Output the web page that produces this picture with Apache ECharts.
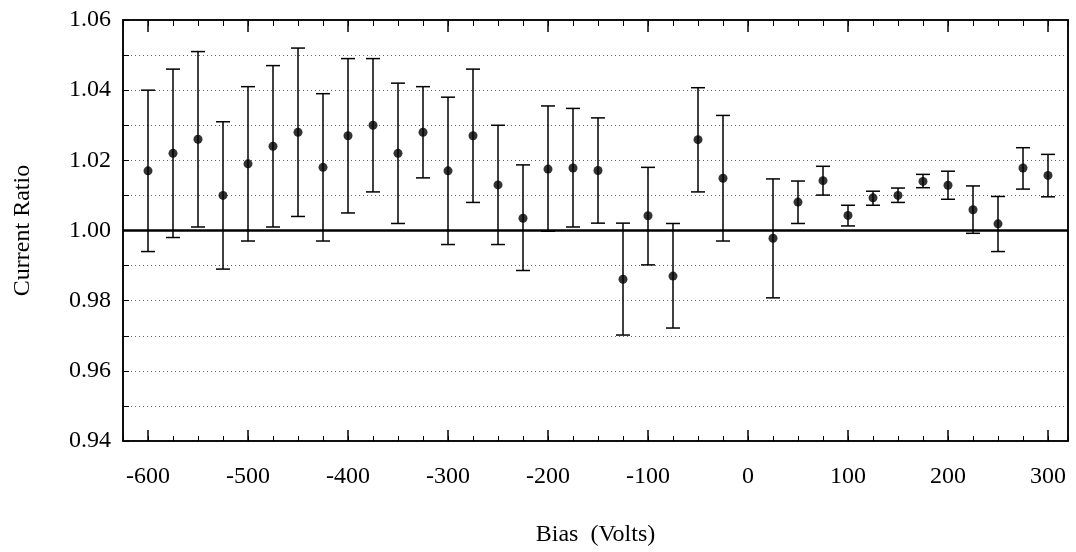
<!DOCTYPE html>
<html><head><meta charset="utf-8">
<script src="https://cdn.jsdelivr.net/npm/echarts@6/dist/echarts.min.js"></script>
<style>html,body{margin:0;padding:0;background:#fff}#c{width:1076px;height:552px}</style>
</head><body><div id="c"></div>
<script>
// Bias (Volts) of each measurement
const bias = [-600,-575,-550,-525,-500,-475,-450,-425,-400,-375,-350,-325,-300,-275,-250,-225,-200,-175,-150,-125,-100,-75,-50,-25,
              25,50,75,100,125,150,175,200,225,250,275,300];
// Current ratio (point)
const ratio = [1.017,1.022,1.026,1.010,1.019,1.024,1.028,1.018,1.027,1.030,1.022,1.028,1.017,1.027,1.013,1.0035,1.0175,1.0178,1.0171,0.9861,1.0042,0.9870,1.0259,1.0149,
               0.9978,1.0081,1.0142,1.0043,1.0093,1.0100,1.0140,1.0129,1.0059,1.0019,1.0178,1.0157];
// Upper end of error bar
const upper = [1.040,1.046,1.051,1.031,1.041,1.047,1.052,1.039,1.049,1.049,1.042,1.041,1.038,1.046,1.030,1.0187,1.0355,1.0348,1.0321,1.0021,1.0180,1.0020,1.0407,1.0328,
               1.0147,1.0141,1.0183,1.0072,1.0112,1.0121,1.0160,1.0169,1.0127,1.0097,1.0236,1.0217];
// Lower end of error bar
const lower = [0.994,0.998,1.001,0.989,0.997,1.001,1.004,0.997,1.005,1.011,1.002,1.015,0.996,1.008,0.996,0.9886,0.9998,1.0010,1.0021,0.9702,0.9902,0.9722,1.0110,0.9970,
               0.9808,1.0020,1.0101,1.0013,1.0072,1.0080,1.0122,1.0089,0.9992,0.9940,1.0118,1.0096];
// Tick labels
const xTickValues = [-600,-500,-400,-300,-200,-100,0,100,200,300];
const xTickLabels = ['-600','-500','-400','-300','-200','-100','0','100','200','300'];
const yTickValues = [0.94,0.96,0.98,1.00,1.02,1.04,1.06];
const yTickLabels = ['0.94','0.96','0.98','1.00','1.02','1.04','1.06'];

const FONT = 'Liberation Serif';
const chart = echarts.init(document.getElementById('c'), null, {renderer: 'canvas'});

const errData = bias.map((b, i) => [b, lower[i], upper[i]]);
const ptData = bias.map((b, i) => [b, ratio[i]]);
const majorData = xTickValues.map(v => [v, 0.94, 1.06]);

function xFmt(v) {
  const i = xTickValues.findIndex(t => Math.abs(t - v) < 1e-6);
  return i >= 0 ? xTickLabels[i] : '';
}
function yFmt(v) {
  const i = yTickValues.findIndex(t => Math.abs(t - v) < 1e-6);
  return i >= 0 ? yTickLabels[i] : '';
}

const option = {
  animation: false,
  backgroundColor: '#fff',
  grid: {left: 123, right: 8, top: 20, bottom: 110, show: true, borderColor: '#000', borderWidth: 1.5, backgroundColor: 'transparent'},
  xAxis: [
    {
      type: 'value', min: -625, max: 320, interval: 25, position: 'bottom',
      axisLine: {show: true, onZero: false, lineStyle: {color: '#000', width: 1.5}},
      axisTick: {show: true, inside: true, length: 5, lineStyle: {color: '#000', width: 1}},
      axisLabel: {margin: 24, fontFamily: FONT, fontSize: 24, color: '#000', formatter: xFmt, showMinLabel: true, showMaxLabel: true},
      splitLine: {show: false},
      name: 'Bias  (Volts)', nameLocation: 'middle', nameGap: 82,
      nameTextStyle: {fontFamily: FONT, fontSize: 24, color: '#000'}
    },
    {
      type: 'value', min: -625, max: 320, interval: 25, position: 'top',
      axisLine: {show: true, onZero: false, lineStyle: {color: '#000', width: 1.5}},
      axisTick: {show: true, inside: true, length: 6, lineStyle: {color: '#000', width: 1}},
      axisLabel: {show: false},
      splitLine: {show: false}
    }
  ],
  yAxis: [
    {
      type: 'value', min: 0.94, max: 1.06, interval: 0.01, position: 'left',
      axisLine: {show: true, onZero: false, lineStyle: {color: '#000', width: 1.5}},
      axisTick: {show: true, inside: true, length: 6, lineStyle: {color: '#000', width: 1}},
      axisLabel: {margin: 12, fontFamily: FONT, fontSize: 24, color: '#000', formatter: yFmt},
      splitLine: {show: true, lineStyle: {color: '#666', width: 1, type: [1, 3]}},
      name: 'Current Ratio', nameLocation: 'middle', nameGap: 88, nameRotate: 90,
      nameTextStyle: {fontFamily: FONT, fontSize: 24, color: '#000'}
    },
    {
      type: 'value', min: 0.94, max: 1.06, interval: 0.01, position: 'right',
      axisLine: {show: true, onZero: false, lineStyle: {color: '#000', width: 1.5}},
      axisTick: {show: false}, axisLabel: {show: false}, splitLine: {show: false}
    }
  ],
  series: [
    {
      type: 'custom', name: 'majorTicks', xAxisIndex: 0, yAxisIndex: 0, clip: false, silent: true,
      data: majorData, encode: {x: 0, y: [1, 2]},
      renderItem: function (params, api) {
        const x = api.value(0);
        const pB = api.coord([x, api.value(1)]);
        const pT = api.coord([x, api.value(2)]);
        const st = {stroke: '#000', lineWidth: 1.5};
        return {
          type: 'group',
          children: [
            {type: 'line', shape: {x1: pB[0], y1: pB[1], x2: pB[0], y2: pB[1] - 11}, style: st},
            {type: 'line', shape: {x1: pT[0], y1: pT[1], x2: pT[0], y2: pT[1] + 12}, style: st}
          ]
        };
      },
      z: 5
    },
    {
      type: 'custom', name: 'err', xAxisIndex: 0, yAxisIndex: 0,
      data: errData, encode: {x: 0, y: [1, 2]},
      renderItem: function (params, api) {
        const x = api.value(0), lo = api.value(1), hi = api.value(2);
        const pHi = api.coord([x, hi]);
        const pLo = api.coord([x, lo]);
        const w = 7;
        const st = {stroke: '#000', lineWidth: 1.5};
        return {
          type: 'group',
          children: [
            {type: 'line', shape: {x1: pHi[0], y1: pHi[1], x2: pLo[0], y2: pLo[1]}, style: st},
            {type: 'line', shape: {x1: pHi[0] - w, y1: pHi[1], x2: pHi[0] + w, y2: pHi[1]}, style: st},
            {type: 'line', shape: {x1: pLo[0] - w, y1: pLo[1], x2: pLo[0] + w, y2: pLo[1]}, style: st}
          ]
        };
      },
      z: 3
    },
    {
      type: 'scatter', name: 'ratio', xAxisIndex: 0, yAxisIndex: 0,
      data: ptData, symbol: 'circle', symbolSize: 9,
      itemStyle: {color: '#000'}, z: 4,
      markLine: {
        silent: true, symbol: ['none', 'none'], label: {show: false},
        lineStyle: {color: '#000', width: 2.5, type: 'solid'},
        data: [{yAxis: 1.0}]
      }
    }
  ]
};
chart.setOption(option);
</script>
</body></html>
